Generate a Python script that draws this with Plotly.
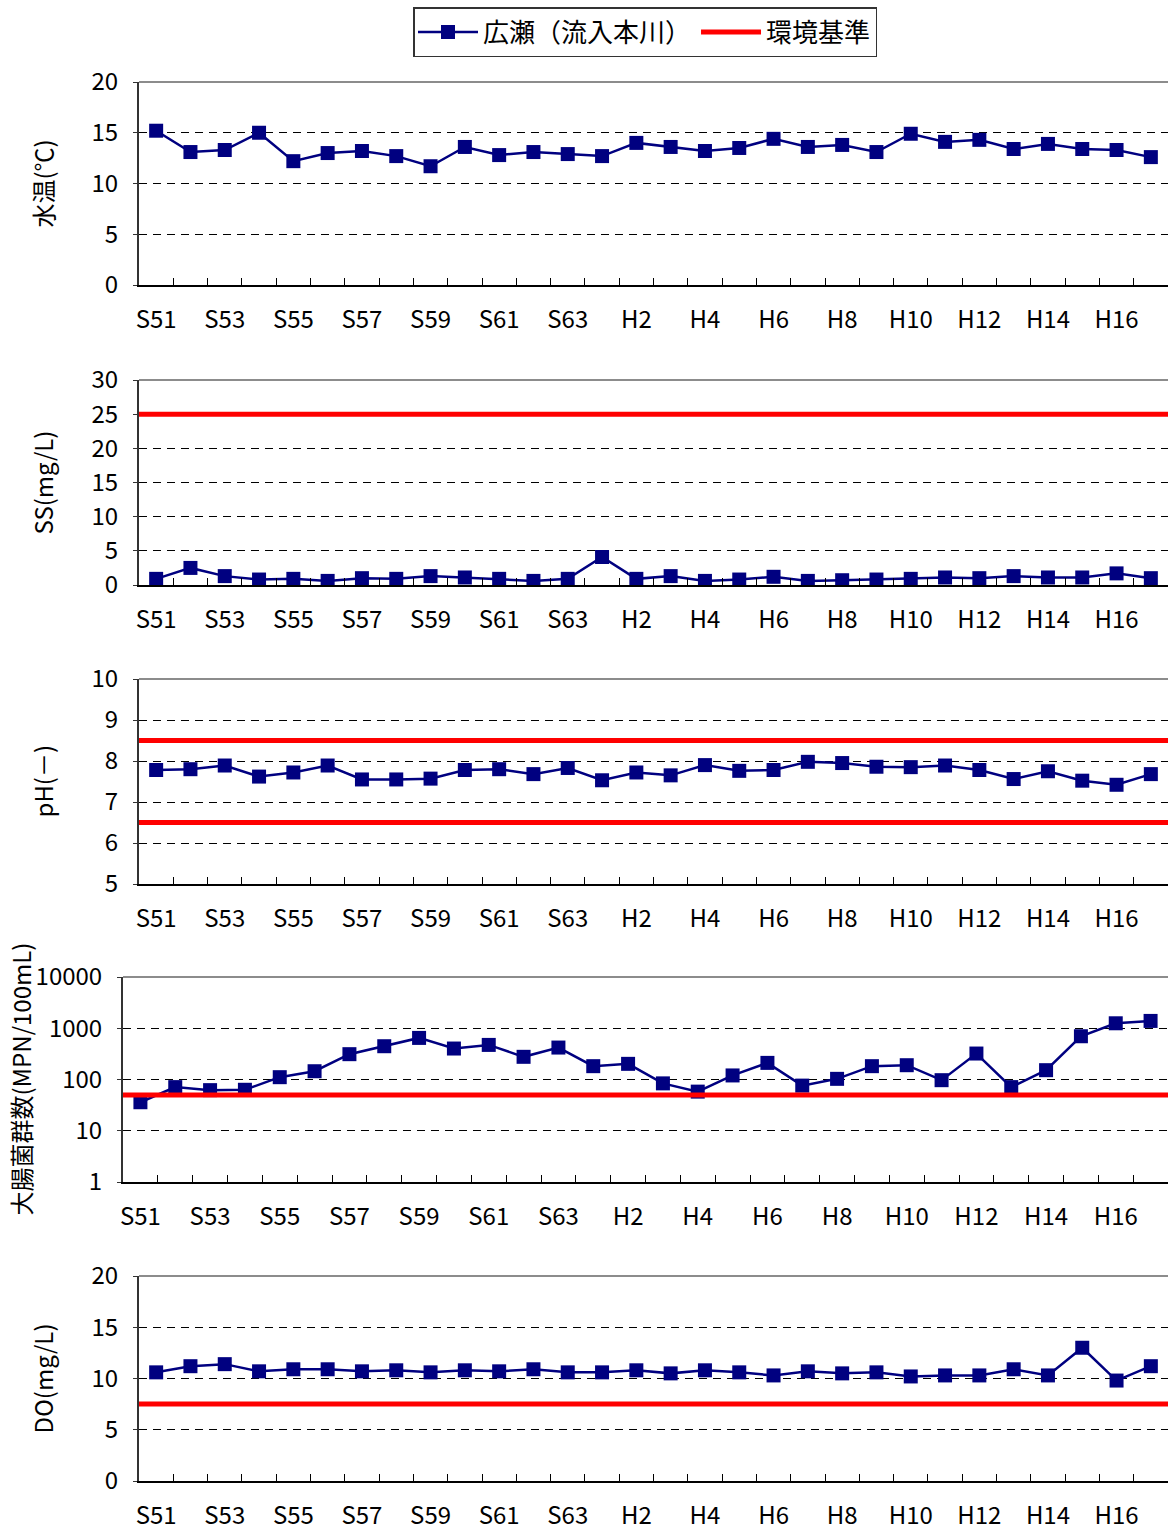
import plotly.graph_objects as go

# ---------------- data ----------------
years = ["S51", "S52", "S53", "S54", "S55", "S56", "S57", "S58", "S59", "S60",
         "S61", "S62", "S63", "H1", "H2", "H3", "H4", "H5", "H6", "H7",
         "H8", "H9", "H10", "H11", "H12", "H13", "H14", "H15", "H16", "H17"]

water_temp = [15.2, 13.1, 13.3, 15.0, 12.2, 13.0, 13.2, 12.7, 11.7, 13.6,
              12.8, 13.1, 12.9, 12.7, 14.0, 13.6, 13.2, 13.5, 14.4, 13.6,
              13.8, 13.1, 14.9, 14.1, 14.3, 13.4, 13.9, 13.4, 13.3, 12.6]

ss = [0.9, 2.5, 1.3, 0.8, 0.9, 0.6, 1.0, 0.9, 1.3, 1.1,
      0.9, 0.6, 0.9, 4.1, 0.9, 1.3, 0.6, 0.8, 1.2, 0.6,
      0.7, 0.8, 0.9, 1.1, 1.0, 1.3, 1.1, 1.1, 1.7, 1.0]

ph = [7.78, 7.80, 7.89, 7.62, 7.72, 7.89, 7.55, 7.55, 7.57, 7.78,
      7.80, 7.68, 7.83, 7.53, 7.72, 7.65, 7.90, 7.76, 7.78, 7.98,
      7.95, 7.86, 7.85, 7.89, 7.78, 7.56, 7.75, 7.52, 7.42, 7.68]

coliform = [36, 71, 62, 63, 111, 145, 312, 446, 648, 402,
            473, 277, 420, 182, 202, 84, 58, 120, 211, 76,
            103, 182, 190, 97, 321, 71, 152, 698, 1250, 1390]

do = [10.6, 11.2, 11.4, 10.7, 10.9, 10.9, 10.7, 10.8, 10.6, 10.8,
      10.7, 10.9, 10.6, 10.6, 10.8, 10.5, 10.8, 10.6, 10.3, 10.7,
      10.5, 10.6, 10.2, 10.3, 10.3, 10.9, 10.3, 13.0, 9.8, 11.2]

std_temp = []
std_ss = [25]
std_ph = [6.5, 8.5]
std_coliform = [50]
std_do = [7.5]

series_name = "広瀬（流入本川）"
std_name = "環境基準"

titles = ["水温(℃)", "SS(mg/L)", "pH(－)", "大腸菌群数(MPN/100mL)", "DO(mg/L)"]

# ---------------- layout geometry (pixels) ----------------
W, H = 1168, 1530
NAVY = "#000080"
RED = "#FF0000"
TICKFONT = dict(family="Noto Sans CJK JP, sans-serif", size=24, color="black")
CJK = "Noto Sans CJK JP, sans-serif"

panels = [
    dict(vals=water_temp, std=std_temp, top=82, bottom=285, left=139, log=False,
         rng=[0, 20], tv=[0, 5, 10, 15, 20], title_x=42),
    dict(vals=ss, std=std_ss, top=380, bottom=585, left=139, log=False,
         rng=[0, 30], tv=[0, 5, 10, 15, 20, 25, 30], title_x=42),
    dict(vals=ph, std=std_ph, top=679, bottom=884, left=139, log=False,
         rng=[5, 10], tv=[5, 6, 7, 8, 9, 10], title_x=42),
    dict(vals=coliform, std=std_coliform, top=977, bottom=1182, left=123, log=True,
         rng=[0, 4], tv=[1, 10, 100, 1000, 10000], title_x=20),
    dict(vals=do, std=std_do, top=1276, bottom=1481, left=139, log=False,
         rng=[0, 20], tv=[0, 5, 10, 15, 20], title_x=42),
]

xs = list(range(len(years)))
fig = go.Figure()
layout = dict(
    width=W, height=H,
    margin=dict(l=0, r=0, t=0, b=0, pad=0, autoexpand=False),
    paper_bgcolor="white", plot_bgcolor="white",
    showlegend=True,
    legend=dict(orientation="h", x=645 / W, xanchor="center", y=1 - 7 / H, yanchor="top",
                bordercolor="#333333", borderwidth=1.5, bgcolor="white",
                font=dict(family=CJK, size=26, color="black"),
                itemwidth=60, tracegroupgap=0),
    annotations=[], shapes=[],
)

std_legend_done = False
for i, p in enumerate(panels, start=1):
    xa = "x" if i == 1 else f"x{i}"
    ya = "y" if i == 1 else f"y{i}"
    xkey = "xaxis" if i == 1 else f"xaxis{i}"
    ykey = "yaxis" if i == 1 else f"yaxis{i}"

    fig.add_trace(go.Scatter(
        x=xs, y=p["vals"], xaxis=xa, yaxis=ya, mode="lines+markers",
        name=series_name, legendgroup="s", showlegend=(i == 1),
        line=dict(color=NAVY, width=2.5),
        marker=dict(symbol="square", size=14, color=NAVY),
    ))
    for v in p["std"]:
        fig.add_trace(go.Scatter(
            x=[xs[0] - 0.5, xs[-1] + 0.5], y=[v, v], xaxis=xa, yaxis=ya, mode="lines",
            name=std_name, legendgroup="std", showlegend=(not std_legend_done),
            line=dict(color=RED, width=5),
        ))
        std_legend_done = True

    layout[xkey] = dict(
        domain=[p["left"] / W, 1.0], anchor=ya, automargin=False,
        range=[-0.5, len(years) - 0.5], showgrid=False, zeroline=False,
        showline=True, linecolor="black", linewidth=2,
        tickmode="array", tickvals=xs[::2], ticktext=years[::2],
        ticks="", tickfont=TICKFONT, ticklabelstandoff=12,
        minor=dict(tickmode="array", tickvals=[x + 0.5 for x in xs[:-1]],
                   ticks="inside", ticklen=7, tickcolor="black", tickwidth=1, showgrid=False),
        fixedrange=True,
    )
    ydict = dict(
        domain=[1 - p["bottom"] / H, 1 - p["top"] / H], anchor=xa, automargin=False,
        showline=True, linecolor="#333333", linewidth=2, zeroline=False,
        showgrid=True, gridcolor="black", gridwidth=1, griddash="8px,6px",
        tickmode="array", tickvals=p["tv"], ticktext=[str(t) for t in p["tv"]],
        ticks="outside", ticklen=4, tickcolor="#333333",
        tickfont=TICKFONT, ticklabelstandoff=10, fixedrange=True,
    )
    if p["log"]:
        ydict.update(type="log", range=p["rng"])
    else:
        ydict.update(range=p["rng"])
    layout[ykey] = ydict

    # gray top border of plot area
    layout["shapes"].append(dict(
        type="line", xref=f"{xa} domain", yref=f"{ya} domain",
        x0=0, x1=1, y0=1, y1=1, line=dict(color="#8c8c8c", width=2), layer="above"))

    # rotated y-axis title
    layout["annotations"].append(dict(
        text=titles[i - 1], textangle=-90, xref="paper", yref="paper",
        x=p["title_x"] / W, y=1 - (p["top"] + p["bottom"]) / 2 / H,
        xanchor="center", yanchor="middle", showarrow=False,
        font=dict(family=CJK, size=24, color="black")))

fig.update_layout(**layout)
fig.write_html(
    "out.html",
    config={"displayModeBar": False},
    post_script="document.body.style.margin='0';document.body.style.overflow='hidden';",
)
